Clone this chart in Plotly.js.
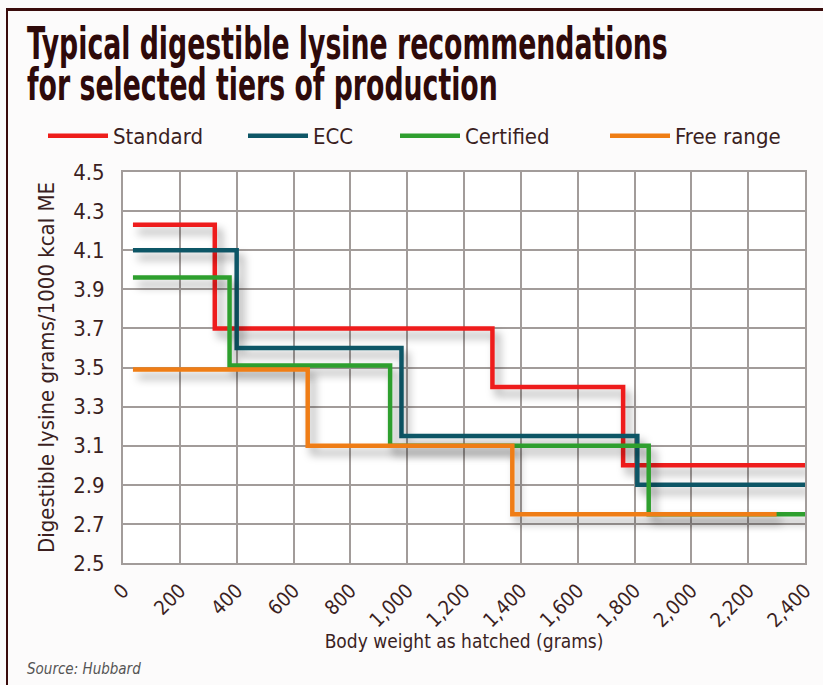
<!DOCTYPE html>
<html>
<head>
<meta charset="utf-8">
<script src="https://cdn.plot.ly/plotly-3.0.1.min.js"></script>
<style>
html,body{margin:0;padding:0;background:#fcfbfb;}
#chart{width:823px;height:685px;position:relative;}
.bt{position:absolute;left:6px;top:8px;width:817px;height:3px;background:#3a0c0c;z-index:5;}
.bl{position:absolute;left:6px;top:8px;width:2px;height:677px;background:#3a0c0c;z-index:5;}
</style>
</head>
<body>
<div id="wrap" style="position:relative;width:823px;height:685px;">
<div id="chart"></div>
<div class="bt"></div><div class="bl"></div>
</div>
<script>
// ---- data ----
const seriesNames = ["Standard", "ECC", "Certified", "Free range"];
const standardX = [35, 323, 1300, 1760, 2400];
const standardY = [4.23, 3.7, 3.4, 3.0, 3.0];
const eccX = [35, 400, 980, 1810, 2400];
const eccY = [4.1, 3.6, 3.15, 2.9, 2.9];
const certifiedX = [35, 375, 940, 1850, 2400];
const certifiedY = [3.96, 3.51, 3.1, 2.75, 2.75];
const freeRangeX = [35, 650, 1370, 2300];
const freeRangeY = [3.49, 3.1, 2.75, 2.75];
const xTicks = [0, 200, 400, 600, 800, 1000, 1200, 1400, 1600, 1800, 2000, 2200, 2400];
const yTicks = [2.5, 2.7, 2.9, 3.1, 3.3, 3.5, 3.7, 3.9, 4.1, 4.3, 4.5];

const colors = ["#ee1d1a", "#0e5666", "#2f9f2f", "#ef7d14"];
const FONT = "DejaVu Sans Condensed, DejaVu Sans, sans-serif";
const TXT = "#3b1f1f";

const xs = [standardX, eccX, certifiedX, freeRangeX];
const ys = [standardY, eccY, certifiedY, freeRangeY];
const legendIds = ["legend", "legend2", "legend3", "legend4"];

const traces = seriesNames.map((n, i) => ({
  type: "scatter", mode: "lines", name: n,
  x: xs[i], y: ys[i],
  line: {shape: "hv", color: colors[i], width: 4.5},
  legend: legendIds[i], hoverinfo: "skip"
}));

const L = 123, R = 805;
function px2paper(p){ return (p - L) / (R - L); }
function legendCfg(px){
  return {x: px2paper(px), y: 1.092, xanchor: "left", yanchor: "middle",
    orientation: "h", bgcolor: "rgba(0,0,0,0)", itemwidth: 60,
    font: {family: FONT, size: 22, color: TXT}};
}

const gridC = "#a29c9a";
const layout = {
  width: 823, height: 685,
  paper_bgcolor: "#fcfbfb", plot_bgcolor: "#ffffff",
  margin: {l: 123, r: 18, t: 172, b: 122},
  showlegend: true,
  title: {text: "Typical digestible lysine recommendations<br>for selected tiers of production",
    x: 27/823, xanchor: "left", yref: "container", y: 0.96, yanchor: "top",
    font: {family: FONT, size: 44, color: "#2e0a0a", weight: "bold"}},
  legend: legendCfg(43),
  legend2: legendCfg(243),
  legend3: legendCfg(395),
  legend4: legendCfg(605),
  xaxis: {range: [0, 2400], tickvals: xTicks, tickformat: ",d", tickangle: -45,
    showgrid: true, gridcolor: gridC, gridwidth: 2, zeroline: false,
    showline: true, linecolor: gridC, linewidth: 2, mirror: true, ticks: "",
    ticklabelstandoff: 6,
    tickfont: {family: FONT, size: 20, color: TXT},
    title: {text: "Body weight as hatched (grams)", standoff: 0,
      font: {family: FONT, size: 19, color: TXT}}},
  yaxis: {range: [2.5, 4.5], tickvals: yTicks, tickformat: ".1f",
    showgrid: true, gridcolor: gridC, gridwidth: 2, zeroline: false,
    showline: true, linecolor: gridC, linewidth: 2, mirror: true, ticks: "",
    ticklabelstandoff: 12,
    tickfont: {family: FONT, size: 22, color: TXT},
    title: {text: "Digestible lysine grams/1000 kcal ME", standoff: 12,
      font: {family: FONT, size: 22, color: TXT}}},
  annotations: [{text: "<i>Source: Hubbard</i>", xref: "paper", yref: "paper",
    x: px2paper(25), y: -0.27, xanchor: "left", yanchor: "middle", showarrow: false,
    font: {family: FONT, size: 15, color: "#555"}}]
};

Plotly.newPlot("chart", traces, layout, {displayModeBar: false, staticPlot: true}).then(gd => {
  const svg = gd.querySelector("svg.main-svg");
  const ns = "http://www.w3.org/2000/svg";
  let defs = svg.querySelector("defs");
  if (!defs) { defs = document.createElementNS(ns, "defs"); svg.insertBefore(defs, svg.firstChild); }
  const f = document.createElementNS(ns, "filter");
  f.setAttribute("id", "lineShadow");
  f.setAttribute("x", "-10%"); f.setAttribute("y", "-10%");
  f.setAttribute("width", "130%"); f.setAttribute("height", "140%");
  const ds = document.createElementNS(ns, "feDropShadow");
  ds.setAttribute("dx", "5"); ds.setAttribute("dy", "7");
  ds.setAttribute("stdDeviation", "4.5");
  ds.setAttribute("flood-color", "#000"); ds.setAttribute("flood-opacity", "0.35");
  f.appendChild(ds); defs.appendChild(f);
  gd.querySelectorAll(".scatterlayer .trace").forEach(t => t.setAttribute("filter", "url(#lineShadow)"));

  // condensed title: tighter leading and horizontal compression
  const tt = gd.querySelector("text.gtitle");
  if (tt) {
    const lines = tt.querySelectorAll("tspan.line");
    if (lines.length > 1) lines[1].setAttribute("dy", "0.92em");
    const bb = tt.getBBox();
    const s = 641 / bb.width;
    const prev = tt.getAttribute("transform") || "";
    const ascent = 0.93 * 44;
    tt.setAttribute("transform", `translate(27, ${59 - ascent}) scale(${s}, 1) translate(${-bb.x}, ${-bb.y}) ${prev}`);
  }
  // nudge the x-axis title slightly closer to the rotated tick labels
  const xt = gd.querySelector("text.xtitle");
  if (xt) {
    const prev = xt.getAttribute("transform") || "";
    xt.setAttribute("transform", `translate(0,-2) ${prev}`);
  }
});
</script>
</body>
</html>
